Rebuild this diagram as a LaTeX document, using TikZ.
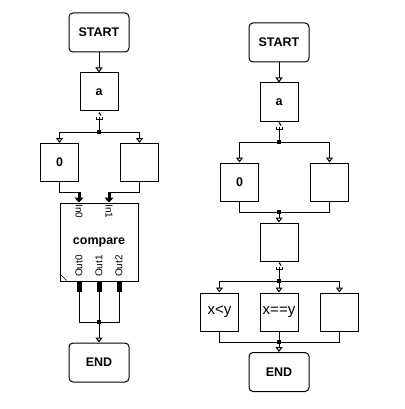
\documentclass[tikz,border=0pt]{standalone}
\usepackage{fontspec}
\setmainfont{Liberation Sans}
\usetikzlibrary{positioning,arrows.meta}

% split mark under a block
\newcommand{\forkmark}[1]{%
  \draw[flow] (#1) ++(0,1) -- ++(2,3);
  \draw[flow] (#1) ++(-3,5) -- ++(0,3) -- ++(6,0) -- ++(0,-3);
  \draw[flow] (#1) ++(0,5) -- ++(0,3);
}

\begin{document}
\begin{tikzpicture}[
	x=1pt,y=-1pt,
	term/.style={
	  draw,
	  rounded corners=4pt,
	  line width=1pt,
	  minimum width=60pt,
	  minimum height=39pt,
	  font=\bfseries\fontsize{12.5}{14}\selectfont
	},
	blk/.style={
	  draw,
	  line width=1pt,
	  minimum size=38pt,
	  inner sep=0pt,
	  font=\bfseries\fontsize{12.5}{14}\selectfont
	},
	cond/.style={blk,font=\fontsize{15}{17}\selectfont},
	port/.style={inner sep=0pt,font=\fontsize{10}{12}\selectfont},
	dot/.style={fill,inner sep=0pt,minimum size=4pt},
	flow/.style={line width=1pt},
	arr/.style={flow,-{Triangle[open,width=7pt,length=5pt]}},
	push/.style={line width=3pt,-{Triangle[width=9pt,length=5pt]}}
]
\useasboundingbox (0,0) rectangle (404,409);

% left: START
\node[term] (startL) at (99,32.5) {START};
\node[blk] (aL) at (99,92) {a};
\draw[arr] (startL) -- (aL);

% left: split
\forkmark{aL.south}
\node[dot] (dL1) at (99,132) {};
\draw[flow] (aL.south) ++(0,8) -- (dL1.center);
\node[blk] (zeroL) at (59.5,162.5) {0};
\node[blk] (emptyL) at (139.5,162.5) {};
\draw[arr] (dL1.center) -| (zeroL);
\draw[arr] (dL1.center) -| (emptyL);

% left: compare
\node[blk,minimum size=78pt] (cmp) at (99,242) {compare};
\coordinate (in0) at (79,192);
\coordinate (in1) at (109,192);
\draw[flow] (zeroL) |- (in0);
\draw[flow] (emptyL) |- (in1);
\draw[push] (in0) -- (cmp.north -| in0);
\draw[push] (in1) -- (cmp.north -| in1);
\node[port,rotate=-90] (lin0) at (79,211.5) {In0};
\node[port,rotate=-90] (lin1) at (109,211.5) {In1};
\node[port,rotate=90] (lout0) at (79,266) {Out0};
\node[port,rotate=90] (lout1) at (99,266) {Out1};
\node[port,rotate=90] (lout2) at (119,266) {Out2};
\draw ([shift={(1,-7)}]cmp.south west) -- ([shift={(7,-1)}]cmp.south west);

% left: END
\coordinate (out0) at (79,292);
\coordinate (out1) at (99,292);
\coordinate (out2) at (119,292);
\foreach \o in {out0,out1,out2}
  \draw[line width=5pt] (cmp.south -| \o) -- (\o);
\node[dot] (dL2) at (99,322) {};
\draw[flow] (out0) |- (dL2.center);
\draw[flow] (out2) |- (dL2.center);
\draw[flow] (out1) -- (dL2.center);
\node[term] (endL) at (99,362.5) {END};
\draw[arr] (dL2.center) -- (endL);

% right: START
\node[term] (startR) at (279,42.5) {START};
\node[blk] (aR) at (279,102) {a};
\draw[arr] (startR) -- (aR);

% right: split
\forkmark{aR.south}
\node[dot] (dR1) at (279,142) {};
\draw[flow] (aR.south) ++(0,8) -- (dR1.center);
\node[blk] (zeroR) at (239.5,182) {0};
\node[blk] (emptyR) at (329.5,182) {};
\draw[arr] (dR1.center) -| (zeroR);
\draw[arr] (dR1.center) -| (emptyR);

% right: merge
\node[dot] (dR2) at (279,212) {};
\draw[flow] (zeroR) |- (dR2.center);
\draw[flow] (emptyR) |- (dR2.center);
\node[blk] (midR) at (279,242) {};
\draw[arr] (dR2.center) -- (midR);

% right: three cases
\forkmark{midR.south}
\node[dot] (dR3) at (279,281) {};
\draw[flow] (midR.south) ++(0,8) -- (dR3.center);
\node[cond] (ltR) at (219.5,312) {x<y};
\node[cond] (eqR) at (279,312) {x==y};
\node[blk] (emptyR2) at (339.5,312) {};
\draw[arr] (dR3.center) -| (ltR);
\draw[arr] (dR3.center) -- (eqR);
\draw[arr] (dR3.center) -| (emptyR2);

% right: END
\node[dot] (dR4) at (279,342) {};
\draw[flow] (ltR) |- (dR4.center);
\draw[flow] (emptyR2) |- (dR4.center);
\draw[flow] (eqR) -- (dR4.center);
\node[term] (endR) at (279,372) {END};
\draw[arr] (dR4.center) -- (endR);

\end{tikzpicture}
\end{document}
